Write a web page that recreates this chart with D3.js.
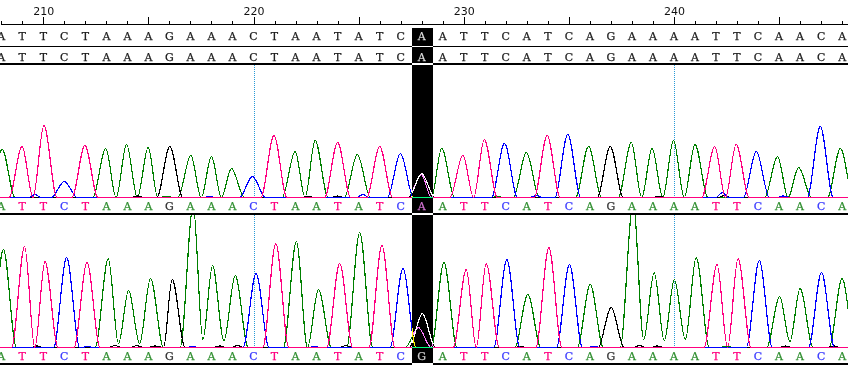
<!DOCTYPE html>
<html>
<head>
<meta charset="utf-8">
<script src="https://cdn.jsdelivr.net/npm/d3@7"></script>
<style>
html, body { margin: 0; padding: 0; background: #fff; overflow: hidden; }
svg { display: block; isolation: isolate; background: #fff; }
.trace { fill: none; stroke-width: 1.2; shape-rendering: crispEdges; }
.call { font-family: "DejaVu Serif", serif; font-size: 11px; text-anchor: middle; dominant-baseline: central; stroke-width: .25; }
.ruler text { font-family: "DejaVu Sans", sans-serif; font-size: 11px; fill: #111; }
.ruler line, .ruler path { stroke: #000; shape-rendering: crispEdges; }
</style>
</head>
<body>
<script>
const firstBase = 208;
const selectedBase = 228;
const rowReference = "ATTCTAAAGAAACTAATATCAATTCATCAGAAAATTCAACA".split("");
const rowConsensus = "ATTCTAAAGAAACTAATATCAATTCATCAGAAAATTCAACA".split("");
const rowSampleOne = "ATTCTAAAGAAACTAATATCAATTCATCAGAAAATTCAACA".split("");
const rowSampleTwo = "ATTCTAAAGAAACTAATATCGATTCATCAGAAAATTCAACA".split("");

// peak signal per base, 208..248. The mixed base 228 is listed with the secondary peaks.
const peaksOne = [48, 51, 72, 16, 52, 49, 53, 50, 51, 42, 41, 29, 21, 62, 46, 57, 55, 43, 51, 44, null, 49, 42, 58, 54, 45, 62, 63, 51, 51, 55, 49, 57, 53, 51, 53, 46, 41, 30, 71, 49];
const peaksTwo = [98, 101, 86, 90, 85, 89, 57, 69, 68, 142, 82, 72, 74, 104, 106, 58, 84, 115, 102, 79, null, 85, 78, 84, 88, 53, 100, 83, 63, 40, 145, 75, 68, 90, 83, 89, 87, 51, 59, 75, 69];

// apex shift from the nominal base position, in bases
const shiftOne = [.04, -.01, .03, 0, -.02, -.03, -.04, -.01, .02, .02, 0, -.05, -.05, -.03, -.02, -.07, 0, -.06, 0, -.01, 0, -.05, -.04, -.02, -.06, -.02, -.03, -.05, -.06, -.03, -.03, -.04, -.02, 0, -.06, -.04, -.08, -.07, -.07, -.04, -.08];
const shiftTwo = [.1, .11, .08, .11, .08, .09, .06, .1, .13, .13, .05, .13, .12, .06, .04, .09, .1, .05, .11, .11, 0, .06, .12, .07, .05, .05, .05, .03, .02, .01, .06, .06, .02, .06, .05, .05, .06, .03, 0, .02, 0];

// secondary peaks: base, position, signal
const minorOne = [["A", 227.98, 23], ["G", 228.0, 24], ["C", 209.6, 3], ["C", 225.2, 3], ["C", 233.45, 2], ["C", 242.3, 5], ["G", 242.4, 2], ["G", 224.0, 1.5], ["G", 214.5, 1.5], ["G", 239.3, 1], ["A", 215.9, 1], ["C", 217.9, 1], ["A", 231.6, 1], ["C", 245.2, 1.5], ["G", 222.6, 1]];
const minorTwo = [["A", 227.84, 20], ["G", 228.03, 34], ["G", 213.41, 2], ["G", 214.45, 2], ["G", 215.31, 1.5], ["G", 218.4, 1.5], ["G", 219.25, 2], ["G", 238.36, 2], ["G", 239.2, 1.5], ["G", 224.4, 2], ["A", 242.5, 1.5], ["C", 212.1, 1], ["C", 217.1, 1], ["C", 222.9, 1], ["G", 209.7, 1.5], ["G", 232.7, 1], ["C", 236.2, 1], ["G", 245.3, 1.5], ["G", 247.6, 1.5]];

// signal left between two neighbouring peaks of the same base: base before the dip, signal
const valleysOne = [];
const valleysTwo = [[213, 4], [214, 4], [217, 8], [218, 7], [238, 8], [239, 7], [240, 8], [245, 6], [246, 5], [208, 2]];

const tickLabels = [210, 220, 230, 240];
const guideBases = [220, 240];

const baseColors = { A: "#008000", G: "#000000", C: "#0000ff", T: "#ff0080" };
const callColors = { A: "#2f8f2f", G: "#333333", C: "#3a3aff", T: "#ff0080" };
const drawOrder = ["A", "G", "C", "T"];

const width = 848, height = 366;
const x = d3.scaleLinear().domain([207.94, 248.28]).range([0, width]);
const peakFoot = 0.62;
const minorFoot = 0.3;

const svg = d3.select("body").append("svg").attr("width", width).attr("height", height);

// Ruler
const allBases = d3.range(firstBase, firstBase + rowReference.length);
const ruler = svg.append("g").attr("class", "ruler").attr("transform", "translate(0,23.5)");
ruler.call(d3.axisTop(x).tickValues(allBases).tickSize(3).tickSizeOuter(0).tickFormat(""));
ruler.append("g").call(d3.axisTop(x).tickValues(allBases.filter(d => d % 5 === 0))
    .tickSize(7).tickSizeOuter(0).tickPadding(2)
    .tickFormat(d => tickLabels.includes(d) ? d : ""))
    .select(".domain").remove();
ruler.selectAll("text").attr("fill", "#111");

function drawCalls(row, y, colors) {
    svg.append("g").selectAll("text").data(row).join("text")
        .attr("class", "call")
        .attr("x", (d, i) => x(firstBase + i))
        .attr("y", y)
        .attr("fill", d => colors ? colors[d] : "#1c1c1c")
        .attr("stroke", d => colors ? colors[d] : "#1c1c1c")
        .text(d => d);
}

function rule(y, size) {
    svg.append("rect").attr("x", 0).attr("y", y).attr("width", width).attr("height", size).attr("fill", "#000");
}

function buildTrace(base, row, peaks, shifts, minor, valleys) {
    const items = [];
    row.forEach((b, i) => {
        if (b === base && peaks[i] !== null) {
            items.push({ pos: firstBase + i + shifts[i], peak: peaks[i], n: firstBase + i, foot: peakFoot });
        }
    });
    minor.filter(m => m[0] === base).forEach(m => {
        items.push({ pos: m[1], peak: m[2], n: null, foot: m[2] > 10 ? peakFoot : minorFoot });
    });
    items.sort((a, b) => a.pos - b.pos);

    const pts = [[x.domain()[0] - 2, 0]];
    items.forEach((it, i) => {
        const prev = items[i - 1], next = items[i + 1];
        if (!prev || it.pos - prev.pos - it.foot - prev.foot >= 0) pts.push([it.pos - it.foot, 0]);
        pts.push([it.pos, it.peak]);
        if (next && next.pos - it.pos - it.foot - next.foot < 0) {
            const v = valleys.find(d => d[0] === it.n);
            pts.push([(it.pos + next.pos) / 2, v ? v[1] : 0]);
        } else {
            pts.push([it.pos + it.foot, 0]);
        }
    });
    pts.push([x.domain()[1] + 2, 0]);
    return pts;
}

function drawPanel(id, top, baseline, row, peaks, shifts, minor, valleys) {
    const y = d3.scaleLinear().domain([0, baseline - top]).range([baseline + .5, top + .5]);
    svg.append("clipPath").attr("id", id).append("rect")
        .attr("x", 0).attr("y", top).attr("width", width).attr("height", baseline - top + 2);

    const line = d3.line().x(d => x(d[0])).y(d => y(d[1])).curve(d3.curveMonotoneX);
    const g = svg.append("g").attr("clip-path", `url(#${id})`);

    g.selectAll(".guide").data(guideBases).join("line")
        .attr("class", "guide")
        .attr("x1", d => Math.round(x(d)) + .5).attr("x2", d => Math.round(x(d)) + .5)
        .attr("y1", top).attr("y2", baseline)
        .attr("stroke", "#2a9ad6").attr("stroke-dasharray", "1,1");

    drawOrder.forEach(base => {
        g.append("path")
            .attr("class", "trace")
            .attr("stroke", baseColors[base])
            .attr("d", line(buildTrace(base, row, peaks, shifts, minor, valleys)));
    });
}

drawCalls(rowReference, 36, null);
rule(46, 1);
drawCalls(rowConsensus, 57, null);
rule(63, 2);

drawPanel("panel-one", 65, 197, rowSampleOne, peaksOne, shiftOne, minorOne, valleysOne);
drawCalls(rowSampleOne, 206, callColors);
rule(213, 2);

drawPanel("panel-two", 215, 347, rowSampleTwo, peaksTwo, shiftTwo, minorTwo, valleysTwo);
drawCalls(rowSampleTwo, 356, callColors);
rule(363, 2);

// selected column, inverts whatever lies under it
svg.append("rect")
    .attr("x", Math.round(x(selectedBase) - 10)).attr("y", 28)
    .attr("width", 21).attr("height", 337)
    .attr("fill", "#fff")
    .style("mix-blend-mode", "difference");
</script>
</body>
</html>
